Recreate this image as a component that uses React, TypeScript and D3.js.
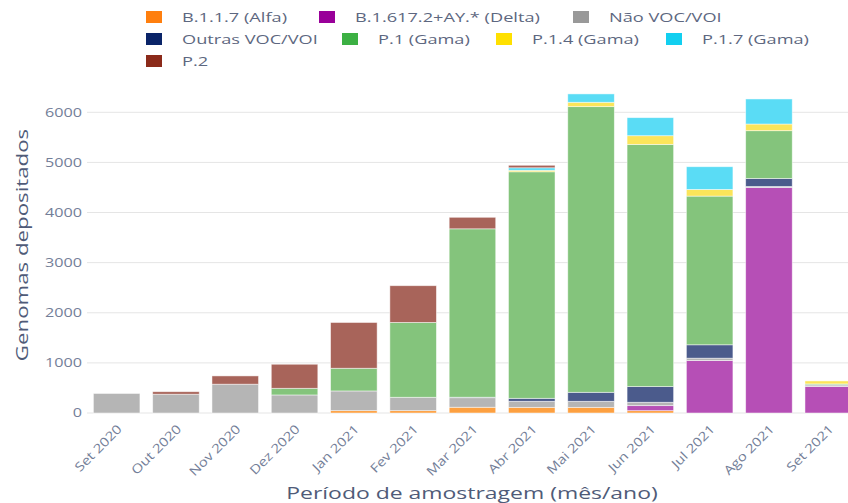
import React from "react";
import * as d3 from "d3";

const months = ["Set 2020","Out 2020","Nov 2020","Dez 2020","Jan 2021","Fev 2021","Mar 2021","Abr 2021","Mai 2021","Jun 2021","Jul 2021","Ago 2021","Set 2021"];

const alfa   = [0, 0, 0, 0, 47, 47, 115, 113, 113, 47, 0, 0, 0];
const delta  = [0, 0, 0, 0, 0, 0, 0, 0, 0, 100, 1047, 4500, 530];
const naoVoc = [390, 375, 575, 360, 393, 267, 190, 120, 120, 67, 47, 20, 30];
const outras = [0, 0, 0, 0, 0, 0, 10, 60, 180, 313, 267, 160, 0];
const p1     = [0, 0, 0, 133, 453, 1493, 3360, 4520, 5700, 4833, 2967, 953, 20];
const p14    = [0, 0, 0, 0, 0, 0, 0, 30, 87, 173, 133, 133, 60];
const p17    = [0, 0, 0, 0, 0, 0, 0, 50, 167, 360, 453, 500, 0];
const p2     = [0, 50, 165, 480, 913, 733, 230, 50, 0, 0, 0, 0, 0];

const seriesNames = ["B.1.1.7 (Alfa)", "B.1.617.2+AY.* (Delta)", "Não VOC/VOI", "Outras VOC/VOI", "P.1 (Gama)", "P.1.4 (Gama)", "P.1.7 (Gama)", "P.2"];
const seriesValues = [alfa, delta, naoVoc, outras, p1, p14, p17, p2];
const legendColors = ["#ff7f0e", "#990099", "#999999", "#0a2468", "#3cb043", "#ffe000", "#12cff0", "#8b2a1a"];
const barColors = ["#fda040", "#b64fb6", "#b5b5b5", "#4b5b8c", "#84c47c", "#fbe55a", "#5adcf5", "#a8645a"];

const yTicks = [0, 1000, 2000, 3000, 4000, 5000, 6000];

const legendRows = [[0, 1, 2], [3, 4, 5, 6], [7]];
const legendX = [[146, 319, 573], [146, 342, 496, 666], [146]];

const FONT = "'Open Sans', 'DejaVu Sans', sans-serif";
const SX = 1.35;

export default function App() {
  const W = 848, H = 503;
  const left = 87, step = 59.3;
  const x = d3.scaleBand<string>().domain(months).range([left, left + step * months.length]).paddingInner(0.215).paddingOuter(0.1075);
  const y = d3.scaleLinear().domain([0, 6000]).range([413, 112.3]);

  const table = months.map((m, i) => {
    const row: any = { month: m };
    seriesNames.forEach((s, k) => (row[s] = seriesValues[k][i]));
    return row;
  });
  const stacked = d3.stack().keys(seriesNames)(table);

  return (
    <svg width={W} height={H} style={{ position: "absolute", left: 0, top: 0, background: "#fff" }} fontFamily={FONT}>
      {yTicks.map((t) => (
        <line key={t} x1={left} x2={W} y1={y(t)} y2={y(t)} stroke="#e5e5e5" strokeWidth={1} />
      ))}
      {stacked.map((layer, k) => (
        <g key={layer.key} fill={barColors[k]}>
          {layer.map((d, i) => {
            const h = y(d[0]) - y(d[1]);
            if (h <= 0) return null;
            return (
              <rect key={i} x={x(months[i])} y={y(d[1])} width={x.bandwidth()} height={h} stroke="#ffffff" strokeOpacity={0.6} strokeWidth={0.8} />
            );
          })}
        </g>
      ))}
      {yTicks.map((t) => (
        <text key={t} transform={`translate(82,${y(t) + 4.3}) scale(${SX},1)`} textAnchor="end" fontSize={12} fill="#737e98">
          {t}
        </text>
      ))}
      {months.map((m) => (
        <text key={m} transform={`translate(${(x(m) as number) + x.bandwidth() / 2 + 6},430) rotate(-45) scale(1.2,1)`} textAnchor="end" fontSize={12.5} fill="#737e98">
          {m}
        </text>
      ))}
      <text transform={`translate(28,245) rotate(-90) scale(${SX},1)`} textAnchor="middle" fontSize={16.5} fill="#4f5b78">
        Genomas depositados
      </text>
      <text transform={`translate(472,499) scale(${SX},1)`} textAnchor="middle" fontSize={17} fill="#4f5b78">
        Período de amostragem (mês/ano)
      </text>
      {legendRows.map((row, r) =>
        row.map((k, j) => {
          const lx = legendX[r][j];
          const ly = 11 + r * 22;
          return (
            <g key={k}>
              <rect x={lx} y={ly} width={16} height={12} fill={legendColors[k]} />
              <text transform={`translate(${lx + 36},${ly + 11}) scale(1.4,1)`} fontSize={13} fill="#5d6780">
                {seriesNames[k]}
              </text>
            </g>
          );
        })
      )}
    </svg>
  );
}
